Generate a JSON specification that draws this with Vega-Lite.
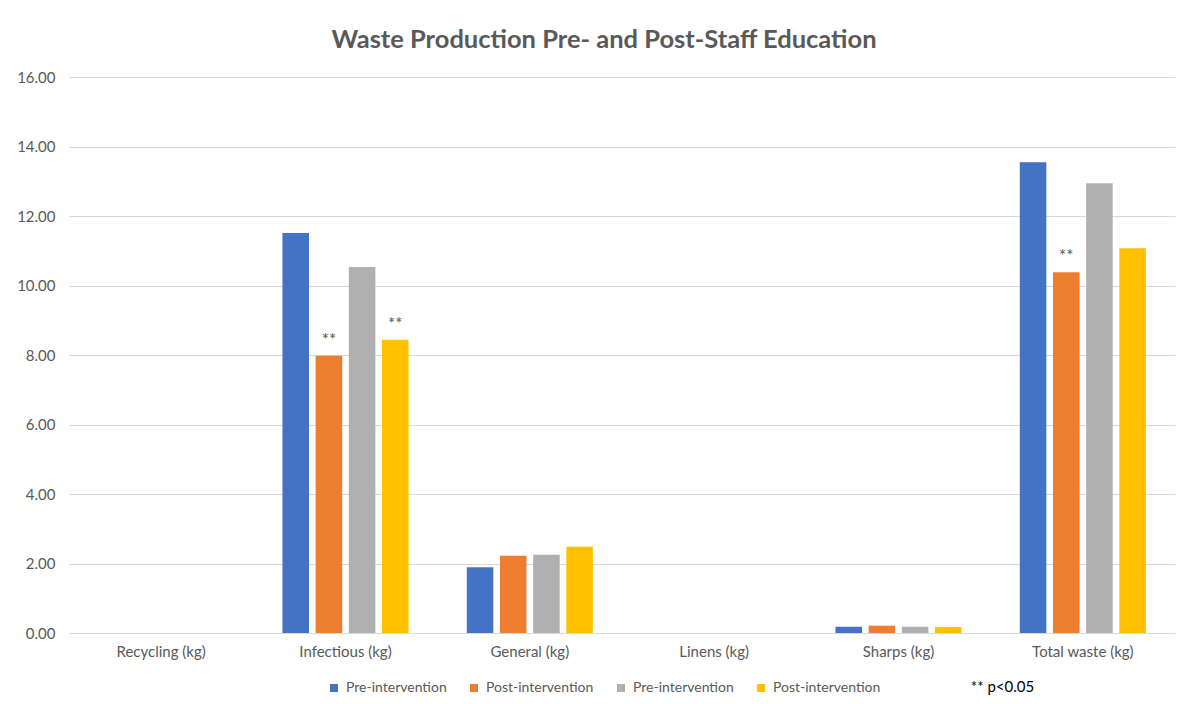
{
  "$schema": "https://vega.github.io/schema/vega-lite/v6.json",
  "autosize": "none",
  "width": 1106,
  "height": 556,
  "padding": {"left": 69, "top": 77, "right": 9, "bottom": 71},
  "background": "white",
  "config": {
    "font": "Lato",
    "view": {"stroke": null}
  },
  "title": {
    "text": "Waste Production Pre- and Post-Staff Education",
    "font": "Lato",
    "fontSize": 25.5,
    "fontWeight": "bold",
    "color": "#595959",
    "anchor": "middle",
    "frame": "group",
    "dx": -18,
    "offset": 17
  },
  "datasets": {
    "bars": [
      {"category": "Recycling (kg)", "series": "Pre-intervention 1", "value": 0, "sig": ""},
      {"category": "Recycling (kg)", "series": "Post-intervention 1", "value": 0, "sig": ""},
      {"category": "Recycling (kg)", "series": "Pre-intervention 2", "value": 0, "sig": ""},
      {"category": "Recycling (kg)", "series": "Post-intervention 2", "value": 0, "sig": ""},
      {"category": "Infectious (kg)", "series": "Pre-intervention 1", "value": 11.51, "sig": ""},
      {"category": "Infectious (kg)", "series": "Post-intervention 1", "value": 7.98, "sig": "**"},
      {"category": "Infectious (kg)", "series": "Pre-intervention 2", "value": 10.53, "sig": ""},
      {"category": "Infectious (kg)", "series": "Post-intervention 2", "value": 8.44, "sig": "**"},
      {"category": "General  (kg)", "series": "Pre-intervention 1", "value": 1.89, "sig": ""},
      {"category": "General  (kg)", "series": "Post-intervention 1", "value": 2.22, "sig": ""},
      {"category": "General  (kg)", "series": "Pre-intervention 2", "value": 2.25, "sig": ""},
      {"category": "General  (kg)", "series": "Post-intervention 2", "value": 2.48, "sig": ""},
      {"category": "Linens (kg)", "series": "Pre-intervention 1", "value": 0, "sig": ""},
      {"category": "Linens (kg)", "series": "Post-intervention 1", "value": 0, "sig": ""},
      {"category": "Linens (kg)", "series": "Pre-intervention 2", "value": 0, "sig": ""},
      {"category": "Linens (kg)", "series": "Post-intervention 2", "value": 0, "sig": ""},
      {"category": "Sharps (kg)", "series": "Pre-intervention 1", "value": 0.18, "sig": ""},
      {"category": "Sharps (kg)", "series": "Post-intervention 1", "value": 0.21, "sig": ""},
      {"category": "Sharps (kg)", "series": "Pre-intervention 2", "value": 0.18, "sig": ""},
      {"category": "Sharps (kg)", "series": "Post-intervention 2", "value": 0.17, "sig": ""},
      {"category": "Total waste (kg)", "series": "Pre-intervention 1", "value": 13.55, "sig": ""},
      {"category": "Total waste (kg)", "series": "Post-intervention 1", "value": 10.38, "sig": "**"},
      {"category": "Total waste (kg)", "series": "Pre-intervention 2", "value": 12.94, "sig": ""},
      {"category": "Total waste (kg)", "series": "Post-intervention 2", "value": 11.07, "sig": ""}
    ],
    "note": [
      {"category": "Total waste (kg)", "value": -1.55, "label": "** p<0.05"}
    ]
  },
  "encoding": {
    "x": {
      "field": "category",
      "type": "nominal",
      "sort": null,
      "scale": {
        "domain": ["Recycling (kg)", "Infectious (kg)", "General  (kg)", "Linens (kg)", "Sharps (kg)", "Total waste (kg)"],
        "paddingInner": 0.316,
        "paddingOuter": 0.158
      },
      "axis": {
        "title": null,
        "labelAngle": 0,
        "domain": false,
        "ticks": false,
        "labelPadding": 11,
        "labelFont": "Lato",
        "labelFontSize": 15,
        "labelColor": "#595959"
      }
    },
    "y": {
      "field": "value",
      "type": "quantitative",
      "scale": {"domain": [0, 16], "nice": false},
      "axis": {
        "title": null,
        "values": [0, 2, 4, 6, 8, 10, 12, 14, 16],
        "format": ".2f",
        "domain": false,
        "ticks": false,
        "labelPadding": 14,
        "labelFont": "Lato",
        "labelFontSize": 15,
        "labelColor": "#595959",
        "gridColor": "#d9d9d9",
        "gridWidth": 1
      }
    }
  },
  "layer": [
    {
      "data": {"name": "bars"},
      "mark": {"type": "bar"},
      "encoding": {
        "xOffset": {
          "field": "series",
          "type": "nominal",
          "sort": null,
          "scale": {
            "domain": ["Pre-intervention 1", "Post-intervention 1", "Pre-intervention 2", "Post-intervention 2"],
            "paddingInner": 0.2,
            "paddingOuter": 0
          }
        },
        "color": {
          "field": "series",
          "type": "nominal",
          "sort": null,
          "scale": {
            "domain": ["Pre-intervention 1", "Post-intervention 1", "Pre-intervention 2", "Post-intervention 2"],
            "range": ["#4472C4", "#ED7D31", "#B0B0B0", "#FFC000"]
          },
          "legend": {
            "title": null,
            "orient": "none",
            "direction": "horizontal",
            "columns": 4,
            "legendX": 258,
            "legendY": 604,
            "symbolType": "square",
            "symbolSize": 64,
            "symbolStrokeWidth": 0,
            "labelFont": "Lato",
            "labelFontSize": 14,
            "labelColor": "#595959",
            "labelOffset": 5,
            "columnPadding": 20,
            "labelExpr": "split(datum.label, ' ')[0]"
          }
        }
      }
    },
    {
      "data": {"name": "bars"},
      "transform": [{"filter": "datum.sig == '**'"}],
      "mark": {"type": "text", "dy": -15, "baseline": "middle", "font": "Lato", "fontSize": 17, "letterSpacing": 2, "color": "#595959"},
      "encoding": {
        "xOffset": {"field": "series", "type": "nominal", "sort": null},
        "text": {"field": "sig"}
      }
    },
    {
      "data": {"name": "note"},
      "mark": {"type": "text", "align": "left", "baseline": "middle", "dx": -112, "font": "Lato", "fontSize": 15, "color": "#000000"},
      "encoding": {
        "text": {"field": "label"}
      }
    }
  ]
}
